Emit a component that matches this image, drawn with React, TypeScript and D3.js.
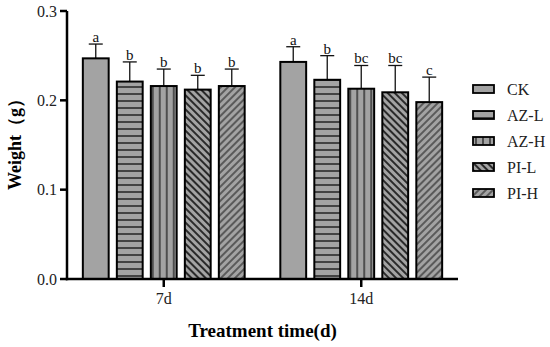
import React, { useEffect, useRef } from 'react';
import * as d3 from 'd3';

const groups = ['7d', '14d'];
const series = ['CK', 'AZ-L', 'AZ-H', 'PI-L', 'PI-H'];
const means7d = [0.247, 0.221, 0.216, 0.212, 0.216];
const means14d = [0.243, 0.223, 0.213, 0.209, 0.198];
const errTop7d = [0.263, 0.243, 0.235, 0.228, 0.235];
const errTop14d = [0.260, 0.250, 0.239, 0.239, 0.226];
const letters7d = ['a', 'b', 'b', 'b', 'b'];
const letters14d = ['a', 'b', 'bc', 'bc', 'c'];
const yTicks = [0, 0.1, 0.2, 0.3];

const means = [means7d, means14d];
const errTops = [errTop7d, errTop14d];
const letters = [letters7d, letters14d];

const patternIds = ['none', 'pat-h', 'pat-v', 'pat-bs', 'pat-fs'];
const FILL = '#a3a3a3';
const FONT = '"Liberation Serif", "Times New Roman", serif';

export default function App() {
  const svgRef = useRef<SVGSVGElement>(null);

  useEffect(() => {
    const svg = d3.select(svgRef.current);
    svg.selectAll('*').remove();

    const left = 67, right = 458, top = 11, bottom = 279;

    // Паттерны
    const defs = svg.append('defs');
    const hp = defs.append('pattern').attr('id', 'pat-h').attr('patternUnits', 'userSpaceOnUse')
      .attr('width', 8).attr('height', 7);
    hp.append('rect').attr('width', 8).attr('height', 7).attr('fill', FILL);
    hp.append('line').attr('x1', 0).attr('x2', 8).attr('y1', 3).attr('y2', 3)
      .attr('stroke', '#2a2a2a').attr('stroke-width', 1.6);

    const vp = defs.append('pattern').attr('id', 'pat-v').attr('patternUnits', 'userSpaceOnUse')
      .attr('width', 7).attr('height', 8);
    vp.append('rect').attr('width', 7).attr('height', 8).attr('fill', FILL);
    vp.append('line').attr('x1', 3).attr('x2', 3).attr('y1', 0).attr('y2', 8)
      .attr('stroke', '#2a2a2a').attr('stroke-width', 1.4);

    // PI-L: линии "\"
    const bs = defs.append('pattern').attr('id', 'pat-bs').attr('patternUnits', 'userSpaceOnUse')
      .attr('width', 5).attr('height', 5).attr('patternTransform', 'rotate(45)');
    bs.append('rect').attr('width', 5).attr('height', 5).attr('fill', FILL);
    bs.append('line').attr('x1', 0).attr('x2', 5).attr('y1', 2).attr('y2', 2)
      .attr('stroke', '#2a2a2a').attr('stroke-width', 2);

    // PI-H: линии "/"
    const fs = defs.append('pattern').attr('id', 'pat-fs').attr('patternUnits', 'userSpaceOnUse')
      .attr('width', 5).attr('height', 5).attr('patternTransform', 'rotate(-45)');
    fs.append('rect').attr('width', 5).attr('height', 5).attr('fill', FILL);
    fs.append('line').attr('x1', 0).attr('x2', 5).attr('y1', 2).attr('y2', 2)
      .attr('stroke', '#3a3a3a').attr('stroke-width', 1.4);

    const fillFor = (i: number) => (i === 0 ? FILL : `url(#${patternIds[i]})`);

    // Шкалы
    const x0 = d3.scalePoint<string>().domain(groups).range([left, right]).padding(0.49);
    const x1 = d3.scaleBand<string>().domain(series).range([-85, 85])
      .paddingInner(0.24).paddingOuter(0.12);
    const y = d3.scaleLinear().domain([0, 0.3]).range([bottom, top]);

    // Столбцы
    groups.forEach((grp, gi) => {
      const cx = x0(grp)!;
      const g = svg.append('g').attr('transform', `translate(${cx},0)`);
      series.forEach((s, si) => {
        const bx = x1(s)!;
        const bw = x1.bandwidth();
        const v = means[gi][si];
        const e = errTops[gi][si];
        g.append('line')
          .attr('x1', bx + bw / 2).attr('x2', bx + bw / 2)
          .attr('y1', y(v)).attr('y2', y(e))
          .attr('stroke', '#111').attr('stroke-width', 1.3);
        g.append('line')
          .attr('x1', bx + bw / 2 - 7).attr('x2', bx + bw / 2 + 7)
          .attr('y1', y(e)).attr('y2', y(e))
          .attr('stroke', '#111').attr('stroke-width', 1.3);
        g.append('rect')
          .attr('x', bx).attr('y', y(v))
          .attr('width', bw).attr('height', y(0) - y(v))
          .attr('fill', fillFor(si))
          .attr('stroke', '#000').attr('stroke-width', 2);
        g.append('text')
          .attr('x', bx + bw / 2).attr('y', y(e) - 2)
          .attr('text-anchor', 'middle')
          .style('font-family', FONT).style('font-size', '15px').style('fill', '#111')
          .text(letters[gi][si]);
      });
    });

    // Оси
    const axisStroke = 2.5;
    svg.append('line').attr('x1', left).attr('x2', left).attr('y1', top).attr('y2', bottom + 1.2)
      .attr('stroke', '#000').attr('stroke-width', axisStroke);
    svg.append('line').attr('x1', left - 1.2).attr('x2', right).attr('y1', bottom).attr('y2', bottom)
      .attr('stroke', '#000').attr('stroke-width', axisStroke);

    yTicks.forEach(t => {
      svg.append('line').attr('x1', left - 7).attr('x2', left).attr('y1', y(t)).attr('y2', y(t))
        .attr('stroke', '#000').attr('stroke-width', axisStroke);
      svg.append('text').attr('x', left - 10).attr('y', y(t)).attr('dy', '0.35em')
        .attr('text-anchor', 'end')
        .style('font-family', FONT).style('font-size', '16px').style('fill', '#222')
        .text(d3.format('.1f')(t));
    });

    groups.forEach(grp => {
      const cx = x0(grp)!;
      svg.append('line').attr('x1', cx).attr('x2', cx).attr('y1', bottom).attr('y2', bottom + 8)
        .attr('stroke', '#000').attr('stroke-width', axisStroke);
      svg.append('text').attr('x', cx).attr('y', bottom + 25)
        .attr('text-anchor', 'middle')
        .style('font-family', FONT).style('font-size', '16px').style('fill', '#222')
        .text(grp);
    });

    // Подписи осей
    svg.append('text')
      .attr('x', (left + right) / 2).attr('y', 337)
      .attr('text-anchor', 'middle')
      .style('font-family', FONT).style('font-size', '19px').style('font-weight', 'bold')
      .text('Treatment time(d)');

    svg.append('text')
      .attr('transform', `translate(21,${(top + bottom) / 2 - 5}) rotate(-90)`)
      .attr('text-anchor', 'middle')
      .style('font-family', FONT).style('font-size', '18px').style('font-weight', 'bold')
      .text('Weight（g）');

    // Легенда
    const legend = svg.append('g').attr('transform', 'translate(473,89)');
    series.forEach((s, i) => {
      const row = legend.append('g').attr('transform', `translate(0,${i * 26})`);
      row.append('rect').attr('x', 0).attr('y', -4).attr('width', 21).attr('height', 8)
        .attr('fill', fillFor(i)).attr('stroke', '#000').attr('stroke-width', 1.8);
      row.append('text').attr('x', 34).attr('y', 0).attr('dy', '0.35em')
        .style('font-family', FONT).style('font-size', '16px').style('fill', '#222')
        .text(s);
    });
  }, []);

  return (
    <svg ref={svgRef} width={550} height={347}
      style={{ position: 'absolute', left: 0, top: 0, background: '#fff' }} />
  );
}
